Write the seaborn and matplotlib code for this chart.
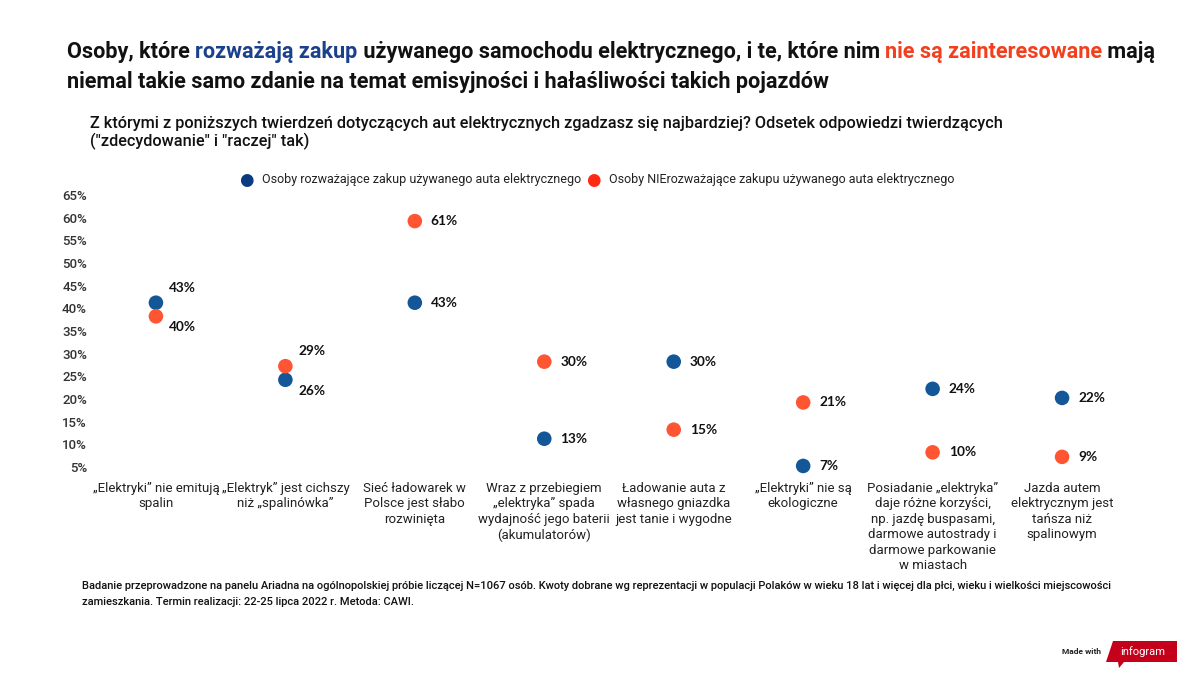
import matplotlib
matplotlib.use("Agg")
import matplotlib.pyplot as plt
import seaborn as sns
import pandas as pd
from matplotlib.patches import Polygon
from matplotlib.transforms import offset_copy

categories = [
    "„Elektryki\u201d nie emitują\nspalin",
    "„Elektryk\u201d jest cichszy\nniż „spalinówka\u201d",
    "Sieć ładowarek w\nPolsce jest słabo\nrozwinięta",
    "Wraz z przebiegiem\n„elektryka\u201d spada\nwydajność jego baterii\n(akumulatorów)",
    "Ładowanie auta z\nwłasnego gniazdka\njest tanie i wygodne",
    "„Elektryki\u201d nie są\nekologiczne",
    "Posiadanie „elektryka\u201d\ndaje różne korzyści,\nnp. jazdę buspasami,\ndarmowe autostrady i\ndarmowe parkowanie\nw miastach",
    "Jazda autem\nelektrycznym jest\ntańsza niż\nspalinowym",
]
considering = [43, 26, 43, 13, 30, 7, 24, 22]
not_considering = [40, 29, 61, 30, 15, 21, 10, 9]
series_names = ["Osoby rozważające zakup używanego auta elektrycznego",
                "Osoby NIErozważające zakupu używanego auta elektrycznego"]
yticks = [5, 10, 15, 20, 25, 30, 35, 40, 45, 50, 55, 60, 65]

BLUE = "#135799"
RED = "#ff5533"
LEG_BLUE = "#0b3a82"
LEG_RED = "#ff2a12"

sns.set_theme(style="white")
plt.rcParams["font.family"] = ["Roboto", "DejaVu Sans"]

rows = []
for i, c in enumerate(categories):
    rows.append({"x": i, "val": considering[i], "series": series_names[0]})
    rows.append({"x": i, "val": not_considering[i], "series": series_names[1]})
df = pd.DataFrame(rows)

fig = plt.figure(figsize=(12, 6.75), dpi=100)
ax = fig.add_axes([0.076, 0.2963, 0.863, 0.403])
sns.scatterplot(data=df, x="x", y="val", hue="series",
                palette={series_names[0]: BLUE, series_names[1]: RED},
                s=110, edgecolor="none", legend=False, ax=ax, zorder=3)
ax.set_xlim(-0.5, len(categories) - 0.5)
ax.set_ylim(5, 65)
for s in ax.spines.values():
    s.set_visible(False)
ax.set_xlabel("")
ax.set_ylabel("")
ax.set_xticks(range(len(categories)))
ax.set_xticklabels(categories, fontsize=9.5, color="#222222", linespacing=1.25,
                   va="top")
ax.tick_params(axis="x", length=0, pad=5)
ax.set_yticks(yticks)
ax.set_yticklabels([f"{v}%" for v in yticks], fontsize=9.5, color="#333333",
                   fontweight="medium", va="bottom")
ax.tick_params(axis="y", length=0, pad=3)
ax.grid(False)

lab_font = dict(fontsize=9.8, fontweight="bold", color="#111111",
                family=["Lato", "DejaVu Sans"])
for i in range(len(categories)):
    b, r = considering[i], not_considering[i]
    if abs(b - r) < 5:
        for v, up in ((b, b >= r), (r, r > b)):
            dy = 15 if up else -11
            tr = offset_copy(ax.transData, fig=fig, x=13, y=dy, units="dots")
            ax.text(i, v, f"{v}%", transform=tr, va="center", ha="left", **lab_font)
    else:
        for v in (b, r):
            tr = offset_copy(ax.transData, fig=fig, x=16, y=0, units="dots")
            ax.text(i, v, f"{v}%", transform=tr, va="center", ha="left", **lab_font)

# Title with colored segments
renderer = fig.canvas.get_renderer()
def seg_line(parts, x0, y, **kw):
    x = x0
    for txt, col in parts:
        t = fig.text(x / 1200, y, txt, color=col, **kw)
        bb = t.get_window_extent(renderer=renderer)
        x += bb.width
title_kw = dict(fontsize=15.6, fontweight="bold", va="center", ha="left")
seg_line([("Osoby, które ", "#111111"), ("rozważają zakup", "#1b418c"),
          (" używanego samochodu elektrycznego, i te, które nim ", "#111111"),
          ("nie są zainteresowane", "#f2401f"), (" mają", "#111111")],
         67, 1 - 52 / 675, **title_kw)
fig.text(67 / 1200, 1 - 82 / 675,
         "niemal takie samo zdanie na temat emisyjności i hałaśliwości takich pojazdów",
         color="#111111", **title_kw)

fig.text(90 / 1200, 1 - 133 / 675,
         "Z którymi z poniższych twierdzeń dotyczących aut elektrycznych zgadzasz się najbardziej? Odsetek odpowiedzi twierdzących\n(\"zdecydowanie\" i \"raczej\" tak)",
         fontsize=11.7, fontweight="medium", color="#111111", va="center", ha="left",
         linespacing=1.2)

# Legend
ly = 1 - 180 / 675
fig.text(246 / 1200, ly, "●", color=LEG_BLUE, fontsize=12, va="center", ha="center",
         family=["DejaVu Sans"])
fig.text(262 / 1200, ly, series_names[0], fontsize=9, color="#222222", va="center")
fig.text(593 / 1200, ly, "●", color=LEG_RED, fontsize=12, va="center", ha="center",
         family=["DejaVu Sans"])
fig.text(609 / 1200, ly, series_names[1], fontsize=9, color="#222222", va="center")

# Footnote
fig.text(82 / 1200, 1 - 594 / 675,
         "Badanie przeprowadzone na panelu Ariadna na ogólnopolskiej próbie liczącej N=1067 osób. Kwoty dobrane wg reprezentacji w populacji Polaków w wieku 18 lat i więcej dla płci, wieku i wielkości miejscowości\nzamieszkania. Termin realizacji: 22-25 lipca 2022 r. Metoda: CAWI.",
         fontsize=8, fontweight="medium", color="#111111", va="center", ha="left",
         linespacing=1.7)

# Made with infogram
fig.text(1101 / 1200, 1 - 651 / 675, "Made with", fontsize=6, fontweight="bold",
         color="#222222", va="center", ha="right")
pts = [(1113, 641), (1177, 641), (1177, 662), (1124, 662), (1119, 668), (1118, 662), (1106, 662)]
poly = Polygon([(x / 1200, 1 - y / 675) for x, y in pts], closed=True,
               transform=fig.transFigure, facecolor="#c4001a", edgecolor="none")
fig.patches.append(poly)
fig.text(1143 / 1200, 1 - 651.5 / 675, "infogram", fontsize=8, color="white",
         va="center", ha="center")

fig.savefig("out.png", dpi=100)
